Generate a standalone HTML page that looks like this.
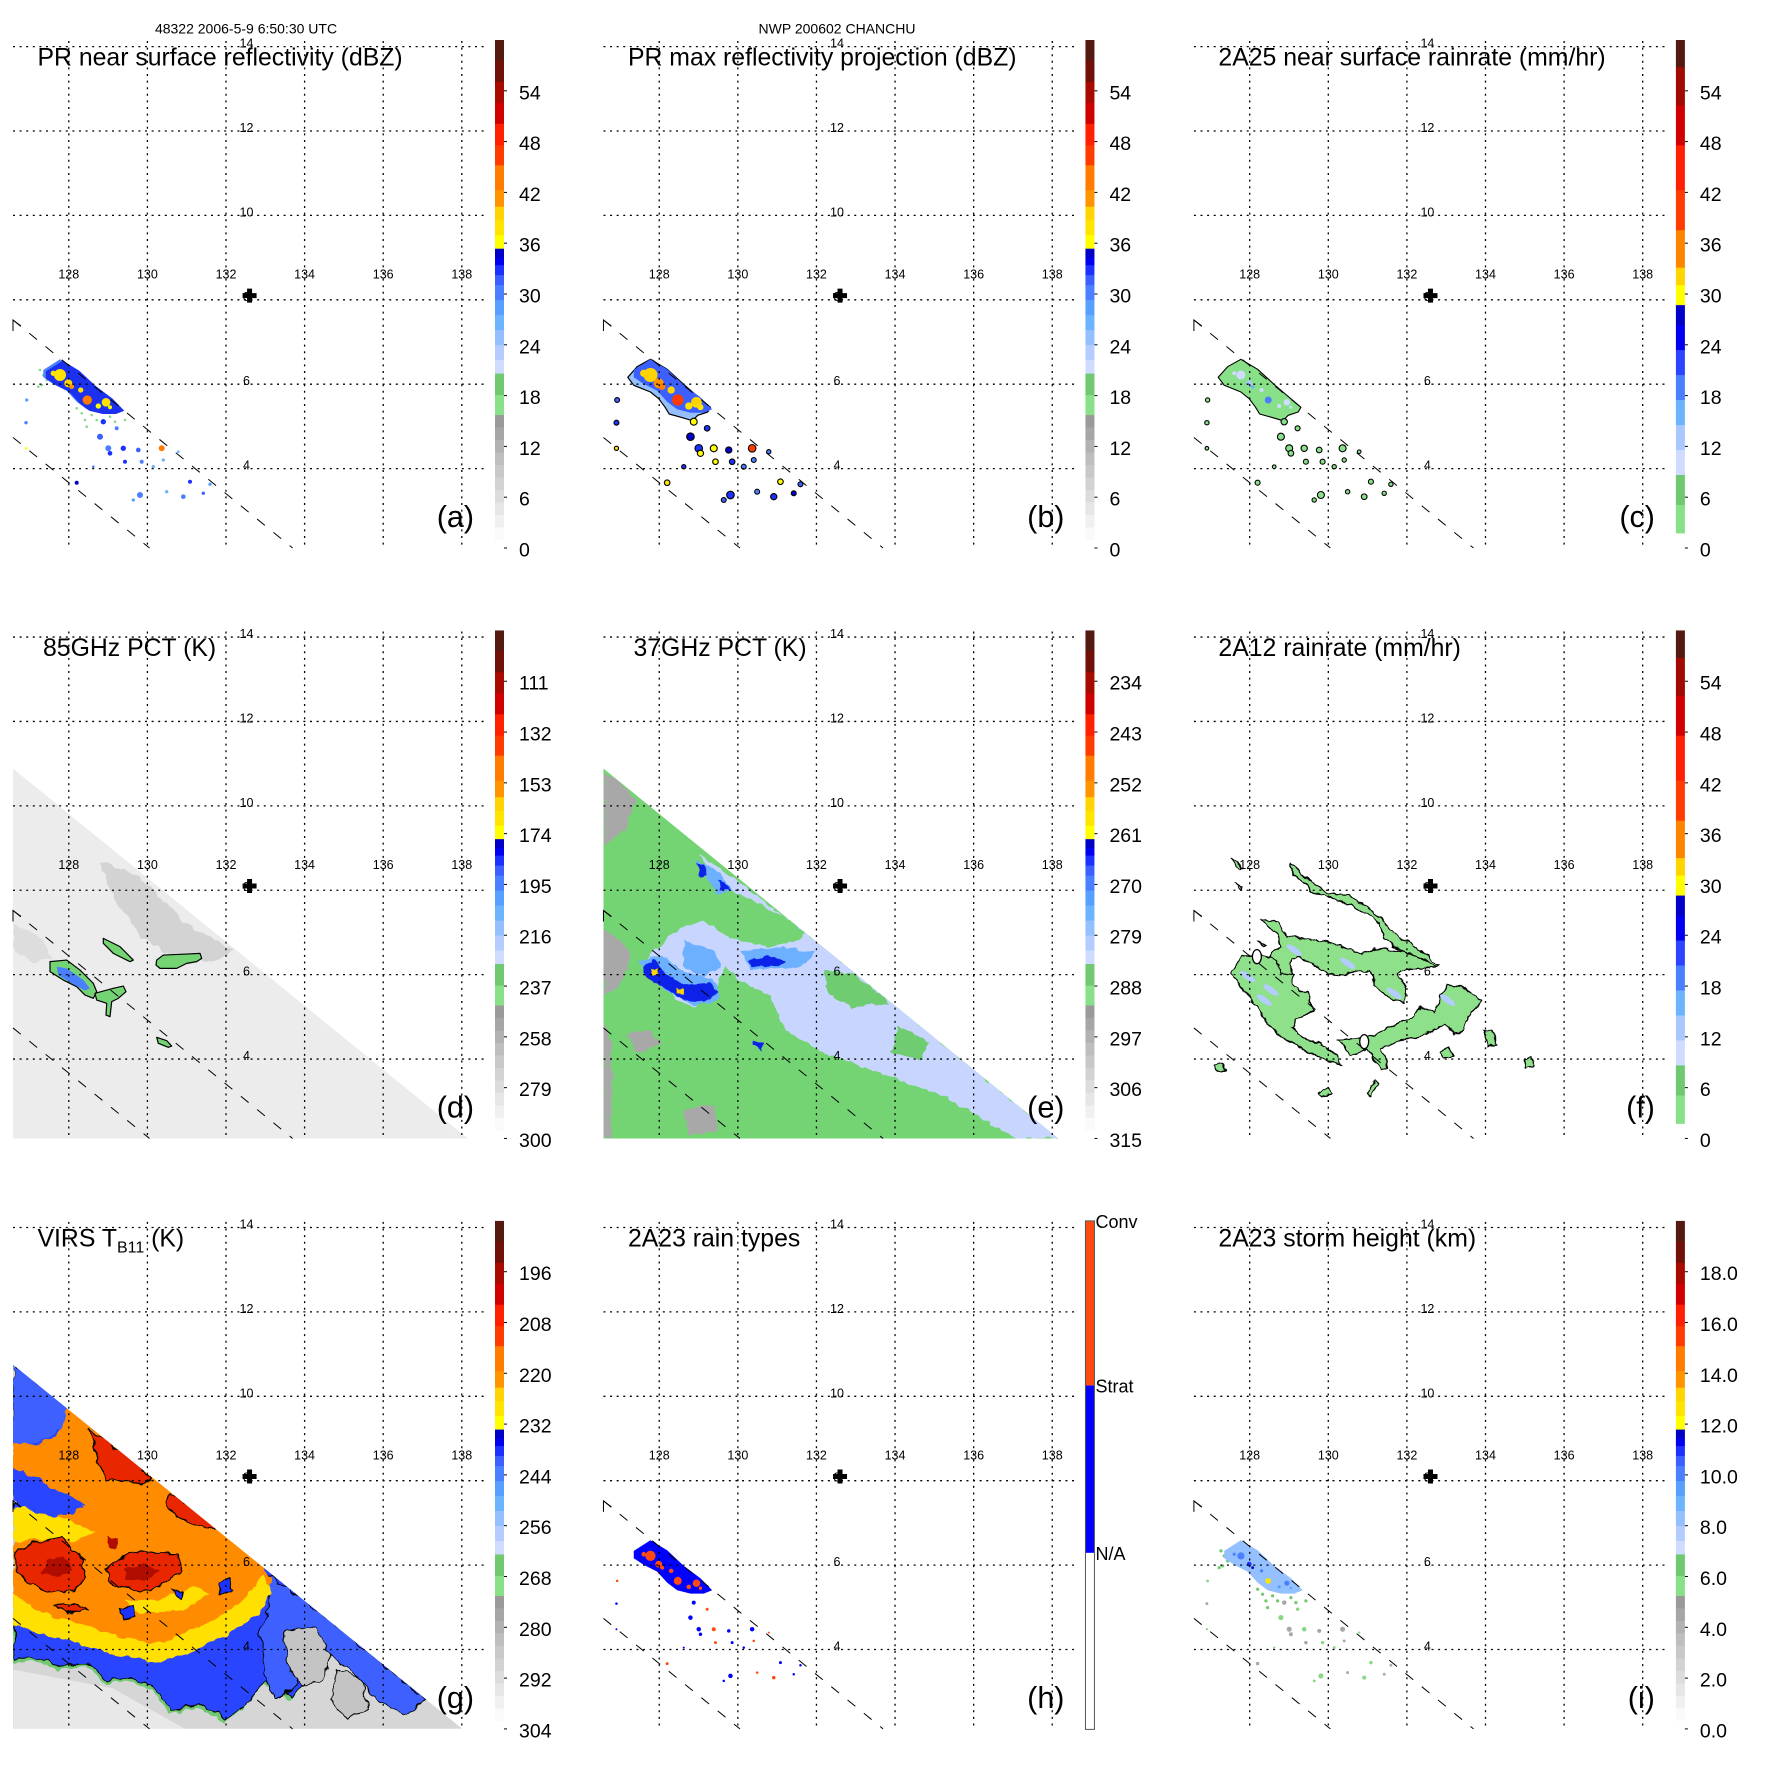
<!DOCTYPE html>
<html><head><meta charset="utf-8"><style>
html,body{margin:0;padding:0;background:#fff;}
svg{display:block;font-family:"Liberation Sans",Arial,sans-serif;}
</style></head><body>
<svg id="fig" width="1771" height="1771" viewBox="0 0 1771 1771" xmlns="http://www.w3.org/2000/svg">
<defs>
<filter id="rough" x="-5%" y="-5%" width="110%" height="110%"><feTurbulence type="fractalNoise" baseFrequency="0.09" numOctaves="2" seed="4"/><feDisplacementMap in="SourceGraphic" scale="9" xChannelSelector="R" yChannelSelector="G"/></filter>
<filter id="rough2" x="-5%" y="-5%" width="110%" height="110%"><feTurbulence type="fractalNoise" baseFrequency="0.12" numOctaves="2" seed="9"/><feDisplacementMap in="SourceGraphic" scale="6" xChannelSelector="R" yChannelSelector="G"/></filter>
<clipPath id="swath"><polygon points="13,178 13,548 468,548"/></clipPath>
<clipPath id="swathg"><polygon points="13,183.7 13,548 462.5,548"/></clipPath>
</defs>
<text x="246" y="33.5" font-size="14" text-anchor="middle">48322 2006-5-9 6:50:30 UTC</text>
<text x="837" y="33.5" font-size="14" text-anchor="middle">NWP 200602 CHANCHU</text>
</svg>
<script>
const NS='http://www.w3.org/2000/svg';
const svg=document.getElementById('fig');
function mk(tag,parent,attrs){const e=document.createElementNS(NS,tag);for(const k in attrs)e.setAttribute(k,attrs[k]);parent.appendChild(e);return e;}

// ---- axis data ----
const lonTicks=[128,130,132,134,136,138];
const latTicks=[14,12,10,8,6,4];
const stormCenter=[132.6,8.1];
function xLon(lon){return 68.8+(lon-128)*39.3;}
function yLat(lat){return 46.6+(14-lat)*42.2;}
const PANEL=590.45;
const CB_TOP=40,CB_BOT=539.5;

// ---- colorbar labels ----
const labelsDBZ=['0','6','12','18','24','30','36','42','48','54'];
const labels85=['300','279','258','237','216','195','174','153','132','111'];
const labels37=['315','306','297','288','279','270','261','252','243','234'];
const labelsVIRS=['304','292','280','268','256','244','232','220','208','196'];
const labelsHt=['0.0','2.0','4.0','6.0','8.0','10.0','12.0','14.0','16.0','18.0'];
const labelsTypes=['N/A','Strat','Conv'];

const stdBins=[[0.025,'#fafafa'],[0.05,'#f0f0f0'],[0.075,'#e6e6e6'],[0.1,'#dcdcdc'],[0.125,'#d2d2d2'],[0.15,'#c8c8c8'],[0.175,'#bebebe'],[0.2,'#b2b2b2'],[0.225,'#a6a6a6'],[0.25,'#9a9a9a'],
[0.29,'#88e088'],[0.333,'#70c870'],
[0.36,'#d0dcff'],[0.39,'#b4ccff'],[0.42,'#94c0ff'],[0.45,'#6cb4ff'],[0.48,'#58a0ff'],[0.51,'#4a80ff'],[0.53,'#3c60ff'],[0.55,'#1c30ff'],[0.565,'#0000f0'],[0.583,'#0000c8'],
[0.61,'#ffff00'],[0.64,'#ffe400'],[0.667,'#ffd400'],[0.7,'#ff9400'],[0.75,'#ff7c00'],[0.79,'#ff3c00'],[0.833,'#ff2000'],[0.875,'#d00000'],[0.917,'#a80a00'],[0.96,'#701008'],[1.0,'#541a12']];
const rainBins=[[0.013,'#ffffff'],[0.07,'#88e088'],[0.13,'#70c870'],[0.18,'#d0dcff'],[0.23,'#a8c8ff'],[0.28,'#6cb4ff'],[0.33,'#4a80ff'],[0.38,'#2c44ff'],[0.43,'#0000f0'],[0.47,'#0000c8'],[0.51,'#ffff00'],[0.545,'#ffd400'],[0.62,'#ff8400'],[0.7,'#ff3c00'],[0.79,'#ff2000'],[0.87,'#d00000'],[0.946,'#a00a00'],[1.0,'#541a12']];
function colorOf(bins,t){for(const b of bins){if(t<=b[0])return b[1];}return bins[bins.length-1][1];}

// ---- PR data (source-image units) ----
const bandA=[[100,150],[150,118],[200,148],[250,195],[300,232],[335,268],[310,278],[270,278],[230,268],[200,245],[170,212],[130,192],[100,172]];
const bandB=[[82,172],[110,140],[150,118],[200,148],[255,198],[330,262],[322,276],[292,286],[276,302],[242,292],[206,282],[194,262],[175,236],[150,216],[100,196]];
const coresX=[150,175,232,288,265,212,130,185,300];
const coresY=[165,190,240,247,258,210,160,200,262];
const coresR=[18,12,14,13,8,8,8,7,6];
const coresV=[38,40,45,38,36,38,37,42,36];
const cellX=[50,48,48,200,390,295,340,385,395,345,270,280,320,455,430,460,540,600,520,580,250,470,370,300,505];
const cellY=[240,308,385,488,525,385,385,390,425,425,350,305,325,385,440,420,485,493,530,520,440,515,540,400,395];
const cellR=[5,5,4,6,9,9,8,7,6,6,9,8,6,9,5,5,6,5,7,5,4,5,5,7,4];
const cellV=[28,30,36,34,30,30,32,31,29,32,31,33,30,44,27,26,33,28,30,31,29,27,28,33,26];
const greenX=[90,100,110,120,95,130,215,225,245,260,300,315,230,200,345,120,85];
const greenY=[150,165,180,175,195,185,280,300,285,300,290,305,320,265,300,150,200];

// ---- panel d ----
const d85Blob1=[[150,635],[200,630],[240,660],[280,700],[290,725],[280,745],[255,735],[230,710],[190,690],[150,665]];
const d85Blob2=[[285,730],[340,715],[370,708],[378,725],[355,745],[335,755],[330,800],[318,795],[320,760],[290,750]];
const d85Blob3=[[310,565],[360,590],[400,630],[390,635],[340,610],[310,580]];
const d85Blob4=[[470,630],[490,615],[560,612],[600,610],[605,625],[590,635],[560,640],[530,655],[480,655],[468,645]];
const d85Blob5=[[470,862],[500,872],[515,888],[505,892],[475,880]];
const d85Dark=[[300,330],[420,380],[560,520],[700,600],[640,640],[520,620],[420,560],[330,420]];

// ---- panel e ----
const e37Grey=[[[35,490],[80,510],[120,560],[90,640],[35,680]],[[35,900],[80,930],[105,960],[100,1010],[70,1060],[35,1080]],[[35,1150],[60,1200],[55,1458],[35,1458]],[[100,1180],[160,1170],[190,1210],[120,1230]],[[250,1380],[330,1370],[340,1440],[260,1450]]];
const e37Light=[[290,700],[600,930],[1245,1458],[1130,1458],[950,1350],[760,1280],[620,1230],[520,1170],[480,1080],[400,1040],[360,1000],[330,1060],[280,1110],[230,1090],[200,1030],[140,1000],[170,960],[240,900],[300,880],[380,930],[470,950],[560,930],[580,900],[420,820],[340,780]];
const e37Mid=[[[250,930],[330,960],[350,1000],[300,1030],[250,1000]],[[400,960],[520,950],[600,965],[560,1005],[430,1010]],[[130,990],[190,970],[240,1010],[330,1040],[345,1090],[280,1105],[200,1065]],[[280,720],[330,740],[380,800],[340,810]]];
const e37Dark=[[[140,1000],[175,985],[200,1020],[250,1050],[320,1045],[340,1075],[300,1095],[250,1090],[200,1060],[150,1030]],[[420,985],[470,972],[520,985],[500,1002],[430,1002]],[[285,728],[302,730],[312,762],[290,760]],[[340,770],[360,780],[372,800],[345,796]],[[430,1200],[460,1208],[458,1222],[430,1212]]];
const e37GreenIsland=[[[620,1010],[700,1020],[800,1100],[700,1110],[640,1080]],[[820,1160],[900,1200],[880,1250],[800,1230]]];

// ---- panel f ----
const fArmA=[[330,190],[360,220],[410,260],[445,280],[500,285],[560,320],[600,355],[640,400],[710,445],[775,495],[740,500],[690,470],[640,440],[610,410],[595,370],[560,340],[505,315],[470,300],[430,285],[400,280],[370,250],[340,225],[325,200]];
const fBlockL=[[150,520],[185,470],[225,462],[265,470],[300,440],[330,520],[340,560],[380,580],[400,635],[360,650],[330,680],[370,715],[420,730],[470,770],[480,795],[440,785],[380,755],[300,710],[255,665],[230,620],[190,570]];
const fBandM=[[265,470],[300,440],[285,400],[240,355],[290,365],[320,410],[370,415],[430,425],[480,440],[540,462],[585,445],[640,450],[710,470],[770,498],[720,505],[675,505],[650,520],[675,560],[670,610],[620,590],[580,560],[570,515],[520,515],[470,530],[430,515],[390,490],[350,470],[330,480],[330,525],[300,520],[290,480]];
const fLower=[[470,720],[520,715],[560,710],[600,695],[660,665],[700,650],[720,620],[760,640],[780,590],[800,555],[840,560],[905,605],[860,650],[850,690],[820,700],[790,670],[760,690],[720,710],[660,720],[600,745],[620,800],[600,810],[560,745],[510,765]];
const fSmall=[[[100,795],[125,790],[135,810],[110,818]],[[415,880],[440,860],[455,885],[425,890]],[[555,880],[580,840],[592,850],[570,888]],[[780,760],[800,740],[820,770],[790,775]],[[910,690],[935,690],[948,735],[920,740]],[[1030,780],[1050,770],[1055,800],[1035,805]],[[150,175],[165,180],[185,210],[175,212]],[[160,250],[185,262],[180,268]],[[230,425],[250,435],[245,440]]];
const fRainX=[200,270,340,500,640,800,250];
const fRainY=[530,570,450,490,580,600,600];

// ---- panel g ----
const gCloud=[[35,490],[180,600],[600,940],[880,1170],[1000,1270],[1060,1330],[1130,1380],[1100,1400],[1040,1340],[990,1300],[940,1290],[880,1260],[830,1280],[800,1350],[770,1380],[700,1340],[650,1400],[600,1440],[520,1400],[450,1420],[400,1350],[340,1330],[280,1340],[230,1290],[150,1300],[100,1280],[35,1280]];
const gOrange=[[180,600],[600,940],[700,1025],[720,1060],[690,1130],[640,1180],[560,1190],[500,1230],[420,1260],[330,1240],[250,1200],[180,1210],[120,1180],[60,1150],[35,1120],[35,950],[80,900],[130,905],[200,880],[230,860],[150,820],[100,790],[60,775],[35,765],[35,700],[100,700],[150,680],[170,640]];
const gYellow=[[[35,870],[100,880],[180,905],[250,930],[200,960],[100,950],[35,960]],[[35,1100],[120,1150],[250,1190],[330,1215],[420,1230],[500,1200],[560,1170],[620,1140],[660,1100],[700,1050],[720,1090],[690,1150],[620,1200],[520,1250],[420,1280],[300,1260],[200,1230],[100,1200],[35,1180]],[[330,1120],[420,1110],[520,1080],[560,1100],[480,1140],[380,1150]]];
const gRed=[[[240,660],[290,700],[360,740],[400,790],[380,805],[330,800],[280,790],[260,740]],[[450,830],[520,870],[580,925],[540,922],[470,892],[440,860]],[[40,990],[90,960],[160,950],[210,990],[230,1050],[200,1090],[120,1092],[80,1072],[40,1032]],[[280,1030],[330,1000],[380,980],[420,990],[470,990],[482,1030],[440,1070],[400,1090],[330,1085],[290,1070]],[[140,1130],[200,1125],[230,1140],[180,1150]]];
const gDark=[[[120,1010],[170,1000],[190,1040],[150,1060],[115,1045]],[[290,950],[310,950],[312,975],[288,978]],[[330,1030],[390,1015],[420,1040],[380,1065],[335,1060]]];
const gBlueLR=[[700,1040],[760,1080],[880,1170],[1000,1270],[1130,1380],[1080,1420],[1000,1380],[930,1300],[870,1250],[820,1270],[780,1350],[730,1380],[700,1300],[690,1200],[720,1120]];
const gGreyHole=[[[760,1200],[840,1190],[880,1260],[860,1330],[800,1340],[760,1280]],[[35,500],[60,520],[80,560],[50,620],[35,640]],[[35,790],[60,810],[50,860],[35,860]],[[900,1300],[960,1330],[980,1400],[920,1430],[880,1380]]];
const gBlueLeft=[[35,490],[180,600],[170,650],[120,690],[60,700],[35,700]];
const gBlueBand=[[35,760],[100,790],[170,840],[230,870],[180,880],[100,870],[35,850]];
const gBlueSpots=[[[580,1070],[610,1060],[620,1090],[590,1100]],[[320,1140],[360,1130],[360,1160],[325,1165]],[[460,1090],[490,1090],[480,1110]]];

// ---- helpers ----
function pts(list,k,ox,oy){return list.map(p=>(ox+p[0]/k).toFixed(1)+','+(oy+p[1]/k).toFixed(1)).join(' ');}
const Ka={k:3,ox:10,oy:320};
const KE=2.66, KD=3, DOY=159.55, FOY=209.55;

function drawPanel(col,row,cfg){
  const g=mk('g',svg,{transform:`translate(${col*PANEL},${row*PANEL})`});
  
  
  const field=mk('g',g,{});
  
  
  cfg.draw(field);
  const d1=mk('line',g,{x1:13,y1:320,x2:292.6,y2:548,stroke:'#000','stroke-width':1,'stroke-dasharray':'10,11'});
  
  
  const d2=mk('line',g,{x1:13,y1:437.5,x2:149.5,y2:548,stroke:'#000','stroke-width':1,'stroke-dasharray':'10,11'});
  
  
  const mark=mk('polyline',g,{points:'13,331 13,320 21,326',fill:'none',stroke:'#000','stroke-width':1});
  
  
  lonTicks.forEach(lon=>{
    const l=mk('line',g,{x1:xLon(lon),y1:41,x2:xLon(lon),y2:548.3,stroke:'#000','stroke-width':1.3,'stroke-dasharray':'2,4.6'});
    
    
    const t=mk('text',g,{x:xLon(lon),y:278.5,'font-size':12.5,'text-anchor':'middle'});
    t.textContent=lon;
    
    
  });
  latTicks.forEach(lat=>{
    const l=mk('line',g,{x1:13,y1:yLat(lat),x2:486,y2:yLat(lat),stroke:'#000','stroke-width':1.3,'stroke-dasharray':'2,4.6'});
    
    
    const t=mk('text',g,{x:246.5,y:yLat(lat)+1,'font-size':12.5,'text-anchor':'middle'});
    t.textContent=lat;
    
    
  });
  const cx=xLon(stormCenter[0]),cy=yLat(stormCenter[1]);
  const pl=mk('path',g,{d:`M${cx-7},${cy-2.5}h14v5h-14z M${cx-2.5},${cy-7}h5v14h-5z`,fill:'#000'});
  
  
  const tt=mk('text',g,{x:cfg.tx||37.5,y:65.5,'font-size':24.8});
  if(cfg.sub){tt.textContent='VIRS T';const s=mk('tspan',tt,{'font-size':16,dy:6});s.textContent='B11';const s2=mk('tspan',tt,{dy:-6});s2.textContent=' (K)';}
  else tt.textContent=cfg.title;
  
  
  const lt=mk('text',g,{x:474,y:527,'font-size':30.5,'text-anchor':'end'});
  lt.textContent='('+cfg.letter+')';
  
  
  const cb=mk('g',g,{});
  
  
  const top=CB_TOP,bot=CB_BOT,H=bot-top,bx=495;
  if(cfg.types){
    const segs=[[0,0.3355,'#ffffff'],[0.3355,0.6707,'#0000ff'],[0.6707,1,'#ff4a12']];
    segs.forEach(s=>{const r=mk('rect',cb,{x:bx,y:bot-s[1]*H,width:9,height:(s[1]-s[0])*H,fill:s[2]});
      
      });
    const bd=mk('rect',cb,{x:bx,y:top,width:9,height:H+9,fill:'none',stroke:'#555','stroke-width':1});
    
    
    const ly=[bot-0.3355*H,bot-0.6707*H,top];
    labelsTypes.forEach((s,i)=>{const t=mk('text',cb,{x:505,y:ly[i]+7,'font-size':18});t.textContent=s;
      
      });
  } else {
    let prev=0;
    cfg.bins.forEach(b=>{const r=mk('rect',cb,{x:bx,y:bot-b[0]*H,width:9,height:(b[0]-prev)*H+0.4,fill:b[1]});prev=b[0];
      
      });
    cfg.labels.forEach((s,i)=>{const yc=549.5-50.8*i;
      const tk=mk('line',cb,{x1:504,y1:yc-1.5,x2:507,y2:yc-1.5,stroke:'#000','stroke-width':1});
      
      
      const t=mk('text',cb,{x:519,y:yc+7,'font-size':19.5});t.textContent=s;
      
      });
  }
}
function poly(parent,list,k,ox,oy,fill,stroke,sw,name){
  const p=mk('polygon',parent,{points:pts(list,k,ox,oy),fill:fill,stroke:stroke||'none','stroke-width':sw||0,'stroke-linejoin':'round'});
  
  
  return p;
}
function dot(parent,x,y,r,fill,stroke,name){
  const c=mk('circle',parent,{cx:(Ka.ox+x/Ka.k).toFixed(1),cy:(Ka.oy+y/Ka.k).toFixed(1),r:r,fill:fill,stroke:stroke||'none','stroke-width':1.1});
  
  
  return c;
}

function drawA(f){
  greenX.forEach((x,i)=>dot(f,x,greenY[i],1.3,'#88d888',null,'weak-echo'));
  poly(f,bandA,3,10,320,'#4a80ff','none',0,'echo-band');
  poly(f,bandA.map(p=>[p[0]+8,p[1]+4]),3,10,320,'#1c30f0','none',0,'echo-band-core');
  coresX.forEach((x,i)=>dot(f,x,coresY[i],coresR[i]/3,colorOf(stdBins,coresV[i]/60),null,'echo-core'));
  cellX.forEach((x,i)=>dot(f,x,cellY[i],cellR[i]/3,colorOf(stdBins,cellV[i]/60),null,'echo-cell'));
}
function drawB(f){
  poly(f,bandB,3,10,320,'#94c0ff','#000',1.2,'echo-band-outline');
  poly(f,bandA,3,10,320,'#3c60ff','none',0,'echo-band');
  coresX.forEach((x,i)=>dot(f,x,coresY[i],coresR[i]/3+1,colorOf(stdBins,(coresV[i]+2)/60),null,'echo-core'));
  cellX.forEach((x,i)=>dot(f,x,cellY[i],cellR[i]/3+0.8,colorOf(stdBins,(cellV[i]+3)/60),'#000','echo-cell'));
}
function drawC(f){
  poly(f,bandB,3,10,320,'#88e088','#000',1.1,'rain-band');
  coresX.forEach((x,i)=>dot(f,x,coresY[i],coresR[i]/4,colorOf(rainBins,(coresV[i]-28)/60),null,'rain-core'));
  cellX.forEach((x,i)=>dot(f,x,cellY[i],cellR[i]/3+0.5,'#88e088','#000','rain-cell'));
}
function drawD(f){
  const inner=mk('g',f,{'clip-path':'url(#swath)'});
  const tri=mk('polygon',inner,{points:'13,178 13,548 468,548',fill:'#ececec'});
  
  
  const dk=mk('g',inner,{filter:'url(#rough)',opacity:0.6});
  poly(dk,d85Dark,KD,0,DOY,'#c4c4c4','none',0,'cold-scattering');
  poly(dk,[[40,520],[120,560],[160,620],[100,640],[40,600]],KD,0,DOY,'#d4d4d4','none',0,'cold-scattering');
  [d85Blob1,d85Blob2,d85Blob3,d85Blob4,d85Blob5].forEach(b=>poly(f,b,KD,0,DOY,'#74d474','#000',1.2,'pct-contour'));
  poly(f,[[170,650],[200,655],[250,690],[270,715],[255,722],[215,700],[175,675]],KD,0,DOY,'#4a80ff','none',0,'pct-core');
}
function drawE(f){
  const inner=mk('g',f,{'clip-path':'url(#swath)'});
  const tri=mk('polygon',inner,{points:'13,178 13,548 468,548',fill:'#74d474'});
  
  
  const r=mk('g',inner,{filter:'url(#rough2)'});
  e37Grey.forEach(b=>poly(r,b,KE,-0.45,-0.45,'#a8a8a8','none',0,'warm-pct'));
  poly(r,e37Light,KE,-0.45,-0.45,'#c8d6ff','none',0,'light-scattering');
  e37GreenIsland.forEach(b=>poly(r,b,KE,-0.45,-0.45,'#70cc70','none',0,'warm-island'));
  e37Mid.forEach(b=>poly(r,b,KE,-0.45,-0.45,'#6cb0ff','none',0,'mid-scattering'));
  e37Dark.forEach(b=>poly(r,b,KE,-0.45,-0.45,'#1024e8','none',0,'strong-scattering'));
  poly(r,[[160,1005],[180,1005],[182,1025],[165,1025]],KE,-0.45,-0.45,'#ffd400','none',0,'pct-core');
  poly(r,[[232,1058],[250,1062],[250,1078],[235,1075]],KE,-0.45,-0.45,'#ffd400','none',0,'pct-core');
}
function drawF(f){
  const r=mk('g',f,{filter:'url(#rough2)'});
  [fArmA,fBlockL,fBandM,fLower].concat(fSmall).forEach(b=>poly(r,b,KD,0,FOY,'#8ee08a','#000',1.3,'rain-region'));
  fRainX.forEach((x,i)=>{const cx=(x/KD).toFixed(1),cy=(FOY+fRainY[i]/KD).toFixed(1);const c=mk('ellipse',f,{cx:cx,cy:cy,rx:9,ry:3,fill:'#b4ccff',transform:`rotate(35 ${cx} ${cy})`});
    
    });
  [[228,470],[550,725]].forEach(p=>{const c=mk('ellipse',f,{cx:(p[0]/KD).toFixed(1),cy:(FOY+p[1]/KD).toFixed(1),rx:4.5,ry:7,fill:'#fff',stroke:'#000','stroke-width':1.3});
    
    });
}
function drawG(f){
  const inner=mk('g',f,{'clip-path':'url(#swathg)'});
  const tri=mk('polygon',inner,{points:'13,183.7 13,548 462.5,548',fill:'#d6d6d6'});
  
  
  poly(inner,[[35,1300],[300,1350],[500,1462],[35,1462]],KE,0,0,'#e8e8e8','none',0,'clear-sky');
  const r=mk('g',inner,{filter:'url(#rough)'});
  poly(r,gCloud,KE,0,0,'#70c870','none',0,'cloud-edge');
  poly(r,gCloud.map(p=>[p[0]+6,p[1]-10]),KE,0,0,'#2c44ff','#000',1,'cloud-region');
  poly(r,gBlueLR,KE,0,0,'#3c60ff','#000',1,'cloud-region');
  gGreyHole.forEach(b=>poly(r,b,KE,0,0,'#c4c4c4','#000',1,'warm-hole'));
  poly(r,gBlueLeft,KE,0,0,'#3c60ff','none',0,'cloud-region');
  poly(r,gOrange,KE,0,0,'#ff8c00','none',0,'cold-cloud');
  poly(r,gBlueBand,KE,0,0,'#2c44ff','none',0,'cloud-region');
  gYellow.forEach(b=>poly(r,b,KE,0,0,'#ffe000','none',0,'cloud-tb232'));
  gBlueSpots.forEach(b=>poly(r,b,KE,0,0,'#1c30ff','#000',1,'cloud-region'));
  gRed.forEach(b=>poly(r,b,KE,0,0,'#e82800','#000',1.2,'very-cold-cloud'));
  gDark.forEach(b=>poly(r,b,KE,0,0,'#b00a00','none',0,'coldest-cloud'));
}
function drawH(f){
  poly(f,bandA,3,10,320,'#0000ff','none',0,'stratiform-band');
  coresX.forEach((x,i)=>dot(f,x,coresY[i],coresR[i]/3.5,'#ff4a12',null,'convective-core'));
  cellX.forEach((x,i)=>dot(f,x,cellY[i],cellR[i]/4,i%3===0?'#ff4a12':'#0000ff',null,'rain-type-cell'));
}
function drawI(f){
  greenX.forEach((x,i)=>dot(f,x,greenY[i],1.6,'#70c870',null,'low-storm'));
  poly(f,bandA,3,10,320,'#94c0ff','none',0,'storm-height-band');
  coresX.forEach((x,i)=>dot(f,x,coresY[i],coresR[i]/5,colorOf(stdBins,(coresV[i]-8)/60),null,'tall-storm'));
  cellX.forEach((x,i)=>dot(f,x,cellY[i],cellR[i]/3.5,i%2?'#a8a8a8':'#88d888',null,'storm-cell'));
}

const panels=[
 {letter:'a',title:'PR near surface reflectivity (dBZ)',bins:stdBins,labels:labelsDBZ,draw:drawA},
 {letter:'b',title:'PR max reflectivity projection (dBZ)',bins:stdBins,labels:labelsDBZ,draw:drawB},
 {letter:'c',title:'2A25 near surface rainrate (mm/hr)',bins:rainBins,labels:labelsDBZ,draw:drawC},
 {letter:'d',title:'85GHz PCT (K)',tx:43,bins:stdBins,labels:labels85,draw:drawD},
 {letter:'e',title:'37GHz PCT (K)',tx:43,bins:stdBins,labels:labels37,draw:drawE},
 {letter:'f',title:'2A12 rainrate (mm/hr)',bins:rainBins,labels:labelsDBZ,draw:drawF},
 {letter:'g',title:'VIRS TB11 (K)',sub:true,bins:stdBins,labels:labelsVIRS,draw:drawG},
 {letter:'h',title:'2A23 rain types',types:true,draw:drawH},
 {letter:'i',title:'2A23 storm height (km)',bins:stdBins,labels:labelsHt,draw:drawI}
];
panels.forEach((p,i)=>drawPanel(i%3,Math.floor(i/3),p));
</script>
</body></html>
